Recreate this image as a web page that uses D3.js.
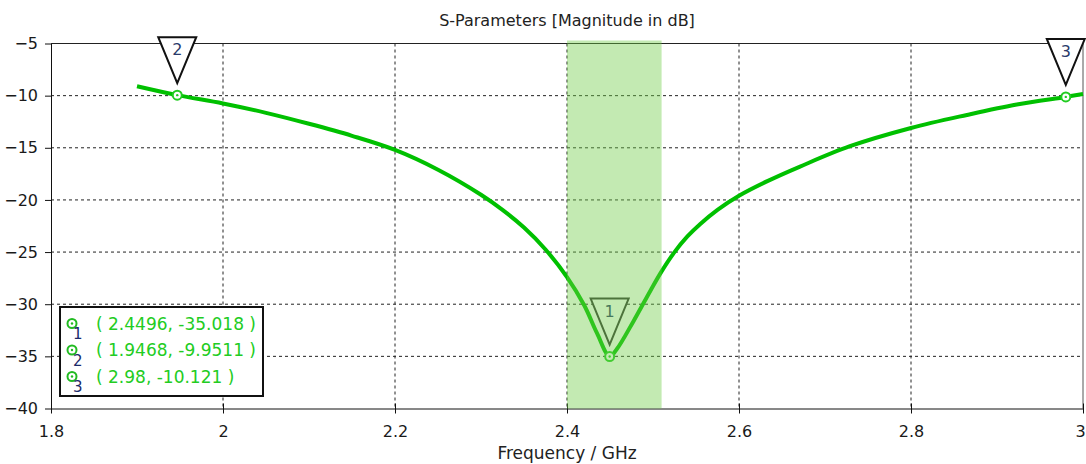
<!DOCTYPE html>
<html>
<head>
<meta charset="utf-8">
<script src="https://cdn.jsdelivr.net/npm/d3@7"></script>
<style>
html,body{margin:0;padding:0;background:#fff;}
svg{display:block;}
text{font-family:"DejaVu Sans",Verdana,sans-serif;}
</style>
</head>
<body>
<svg id="chart" width="1086" height="464"></svg>
<script>
// ---- data ----
const freq = [1.9, 1.9468, 2.0, 2.05, 2.1, 2.15, 2.2, 2.25, 2.3, 2.325, 2.35, 2.375, 2.4, 2.42, 2.435, 2.4496, 2.458, 2.4775, 2.497, 2.51, 2.525, 2.54, 2.555, 2.575, 2.6, 2.633, 2.671, 2.729, 2.8, 2.865, 2.923, 2.98, 3.0];
const s11  = [-9.1, -9.9511, -10.75, -11.65, -12.7, -13.85, -15.2, -17.1, -19.5, -20.95, -22.65, -24.75, -27.4, -30.1, -32.8, -35.018, -34.3, -31.6, -28.7, -26.85, -25.0, -23.5, -22.3, -20.95, -19.6, -18.2, -16.8, -14.85, -13.1, -11.85, -10.85, -10.121, -9.85];
const xTicks = [1.8, 2.0, 2.2, 2.4, 2.6, 2.8, 3.0];
const xTickLabels = ["1.8", "2", "2.2", "2.4", "2.6", "2.8", "3"];
const yTicks = [-5, -10, -15, -20, -25, -30, -35, -40];
const markerIds = ["1", "2", "3"];
const markerX = [2.4496, 1.9468, 2.98];
const markerY = [-35.018, -9.9511, -10.121];
const markerLabels = ["( 2.4496, -35.018 )", "( 1.9468, -9.9511 )", "( 2.98, -10.121 )"];
const bandRange = [2.4, 2.51];
const title = "S-Parameters [Magnitude in dB]";
const xLabel = "Frequency / GHz";

// ---- layout ----
const svg = d3.select("#chart");
const m = {left: 51, right: 1083, top: 43.5, bottom: 408.5};
const x = d3.scaleLinear().domain([1.8, 3.0]).range([m.left, m.right]);
const y = d3.scaleLinear().domain([-40, -5]).range([m.bottom, m.top]);
const green = "#00c000";

// grid
const grid = svg.append("g");
grid.selectAll("line.gx").data(xTicks.slice(1, -1)).join("line")
  .attr("x1", d => x(d)).attr("x2", d => x(d))
  .attr("y1", m.top).attr("y2", m.bottom)
  .attr("stroke", "#222").attr("stroke-width", 1).attr("stroke-dasharray", "3,3");
grid.selectAll("line.gy").data(yTicks.slice(1, -1)).join("line")
  .attr("x1", m.left).attr("x2", m.right)
  .attr("y1", d => y(d)).attr("y2", d => y(d))
  .attr("stroke", "#222").attr("stroke-width", 1).attr("stroke-dasharray", "3,3");

// frame
svg.append("line").attr("x1", m.left).attr("x2", m.right).attr("y1", m.top).attr("y2", m.top).attr("stroke", "#222");
svg.append("line").attr("x1", m.right).attr("x2", m.right).attr("y1", m.top).attr("y2", m.bottom).attr("stroke", "#555");

// axes
const xAxis = d3.axisBottom(x).tickValues(xTicks).tickFormat((d, i) => xTickLabels[i]).tickSizeInner(5).tickSizeOuter(0).tickPadding(12.5);
const gx = svg.append("g").attr("transform", `translate(0,${m.bottom})`).call(xAxis);
gx.select(".domain").attr("stroke", "#111");
gx.selectAll(".tick line").attr("stroke", "#111").attr("y1", -5);
gx.selectAll("text").attr("font-size", 16).attr("fill", "#1a1a1a").attr("font-family", "DejaVu Sans");
gx.selectAll(".tick text").filter(d => d === 3.0).attr("dx", -3);

const yAxis = d3.axisLeft(y).tickValues(yTicks).tickFormat(d3.format("d")).tickSizeInner(6).tickSizeOuter(0).tickPadding(7);
const gy = svg.append("g").attr("transform", `translate(${m.left},0)`).call(yAxis);
gy.select(".domain").attr("stroke", "#111");
gy.selectAll(".tick line").attr("stroke", "#111");
gy.selectAll("text").attr("font-size", 16).attr("fill", "#1a1a1a").attr("font-family", "DejaVu Sans");

// curve
const pts = freq.map((f, i) => [f, s11[i]]);
const line = d3.line().x(d => x(d[0])).y(d => y(d[1])).curve(d3.curveCatmullRom.alpha(0.5));
svg.append("path").datum(pts).attr("d", line)
  .attr("fill", "none").attr("stroke", green).attr("stroke-width", 4).attr("stroke-linejoin", "round");

// marker points
function ring(g, cx, cy, col) {
  g.append("circle").attr("cx", cx).attr("cy", cy).attr("r", 4.5).attr("fill", "#fff").attr("stroke", col).attr("stroke-width", 2);
  g.append("circle").attr("cx", cx).attr("cy", cy).attr("r", 1.2).attr("fill", col);
}
const mk = svg.append("g");
markerX.forEach((mx, i) => ring(mk, x(mx), y(markerY[i]), "#22cc22"));

// triangles
function tri(g, cx, cy, id, stroke, tcol) {
  const tipY = cy - 12, h = 46, w = 38;
  g.append("path").attr("d", `M${cx - w / 2},${tipY - h} L${cx + w / 2},${tipY - h} L${cx},${tipY} Z`)
    .attr("fill", "#fff").attr("stroke", stroke).attr("stroke-width", 2).attr("stroke-linejoin", "miter");
  g.append("text").attr("x", cx).attr("y", tipY - h + 18).attr("text-anchor", "middle")
    .attr("font-size", 16).attr("fill", tcol).text(id);
}
const tg = svg.append("g");
markerX.forEach((mx, i) => tri(tg, x(mx), y(markerY[i]), markerIds[i], i === 0 ? "#333" : "#111", "#2a3a6a"));

// highlight band (semi-transparent overlay)
svg.append("rect").attr("x", x(bandRange[0])).attr("width", x(bandRange[1]) - x(bandRange[0]))
  .attr("y", m.top - 3).attr("height", m.bottom - m.top + 3)
  .attr("fill", "rgb(112,206,72)").attr("fill-opacity", 0.42);

// legend
const lg = svg.append("g");
lg.append("rect").attr("x", 60).attr("y", 307).attr("width", 203).attr("height", 89)
  .attr("fill", "#fff").attr("stroke", "#111").attr("stroke-width", 2);
markerLabels.forEach((t, i) => {
  const ry = 323.5 + i * 26.5;
  ring(lg, 72, ry, "#22bb22");
  lg.append("text").attr("x", 73).attr("y", ry + 15.5).attr("font-size", 15).attr("fill", "#1c2a6a").text(markerIds[i]);
  lg.append("text").attr("x", 96).attr("y", ry + 6).attr("font-size", 17).attr("fill", "#22cc22").text(t);
});

// title & axis label
svg.append("text").attr("x", (m.left + m.right) / 2).attr("y", 26).attr("text-anchor", "middle")
  .attr("font-size", 16).attr("fill", "#222").text(title);
svg.append("text").attr("x", (m.left + m.right) / 2).attr("y", 459).attr("text-anchor", "middle")
  .attr("font-size", 17).attr("fill", "#222").text(xLabel);
</script>
</body>
</html>
